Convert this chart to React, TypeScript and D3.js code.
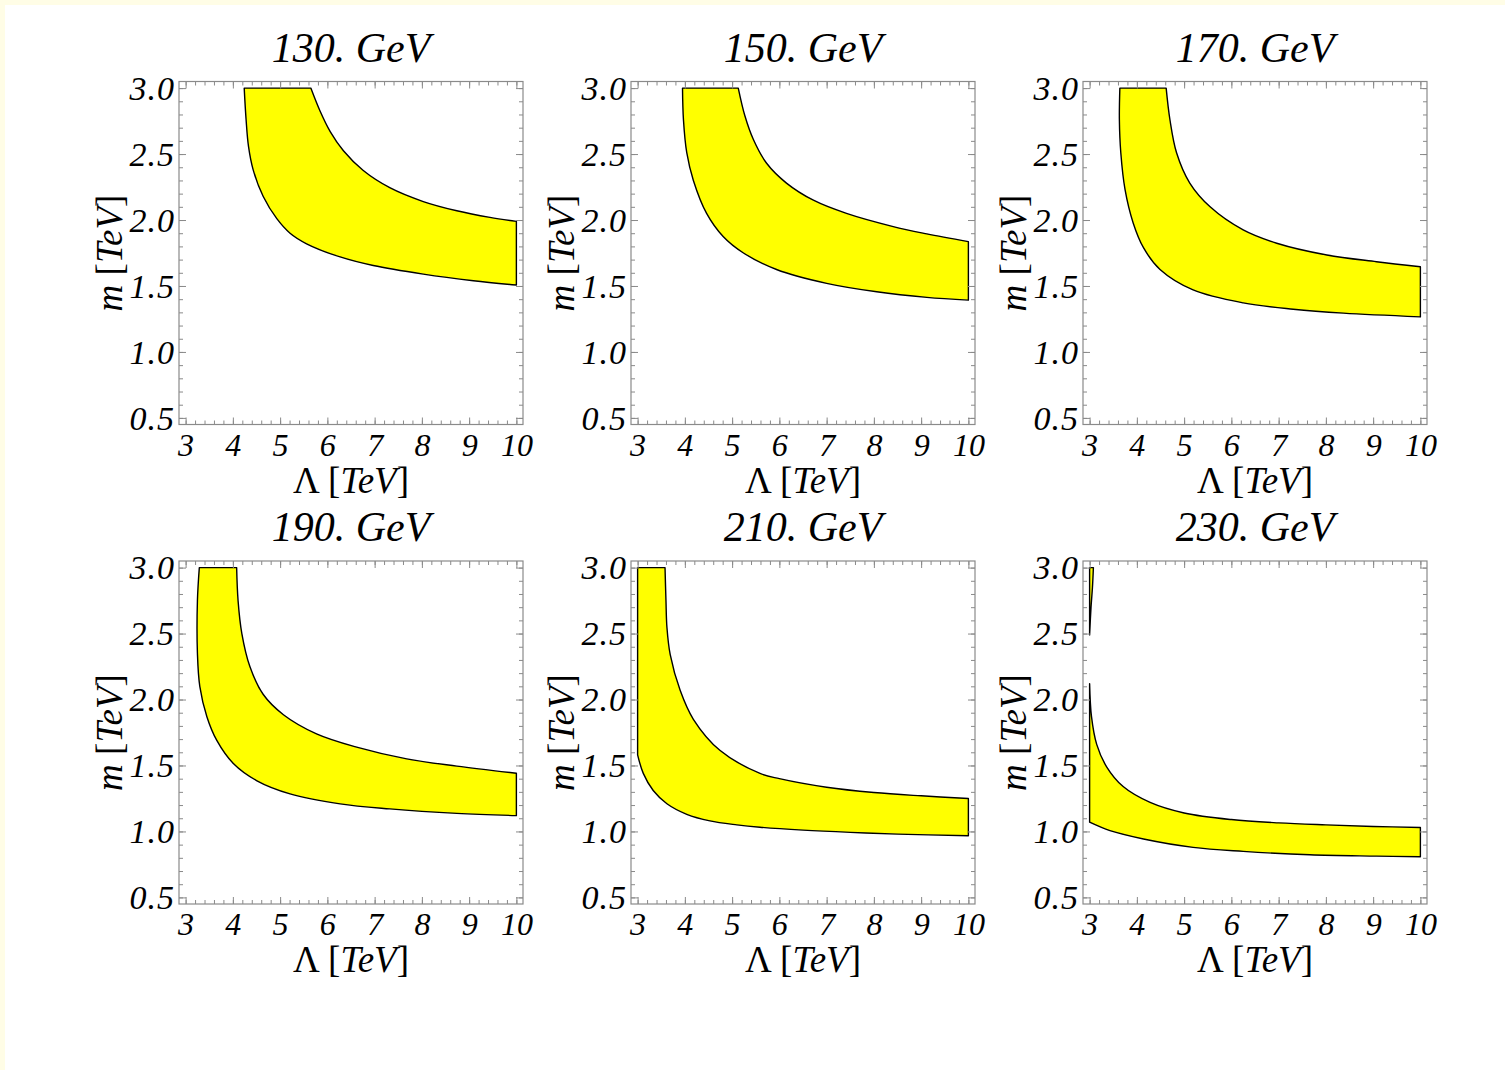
import React, { useEffect, useRef } from 'react';
import * as d3 from 'd3';

const titles = ["130. GeV", "150. GeV", "170. GeV", "190. GeV", "210. GeV", "230. GeV"];
const xTickValues = [3, 4, 5, 6, 7, 8, 9, 10];
const yTickValues = [0.5, 1.0, 1.5, 2.0, 2.5, 3.0];

// band edges as [Lambda, m] in TeV
const lower130 = [[4.24, 3.0], [4.28, 2.76], [4.33, 2.56], [4.43, 2.38], [4.64, 2.18], [4.93, 2.01], [5.21, 1.9], [5.56, 1.82], [6.27, 1.72], [6.97, 1.655], [8.03, 1.59], [9.09, 1.54], [10, 1.507]];
const upper130 = [[5.65, 3.0], [5.84, 2.83], [6.06, 2.67], [6.34, 2.525], [6.76, 2.375], [7.32, 2.245], [8.03, 2.14], [8.74, 2.07], [9.44, 2.02], [10, 1.99]];

const lower150 = [[3.95, 3.0], [3.97, 2.76], [4.04, 2.51], [4.18, 2.3], [4.46, 2.05], [4.81, 1.875], [5.24, 1.75], [5.94, 1.625], [7.0, 1.52], [8.06, 1.456], [9.12, 1.414], [10, 1.393]];
const upper150 = [[5.13, 3.0], [5.27, 2.79], [5.45, 2.61], [5.73, 2.43], [6.15, 2.28], [6.72, 2.15], [7.42, 2.05], [8.41, 1.95], [9.12, 1.895], [10, 1.836]];

const lower170 = [[3.64, 3.0], [3.63, 2.76], [3.66, 2.51], [3.75, 2.23], [3.92, 1.98], [4.14, 1.79], [4.49, 1.625], [5.19, 1.47], [6.25, 1.372], [7.31, 1.324], [8.37, 1.294], [10, 1.266]];
const upper170 = [[4.62, 3.0], [4.7, 2.76], [4.84, 2.51], [5.12, 2.28], [5.55, 2.1], [6.25, 1.925], [6.96, 1.824], [8.02, 1.735], [9.07, 1.684], [10, 1.646]];

const lower190 = [[3.29, 3.0], [3.25, 2.75], [3.25, 2.35], [3.3, 2.1], [3.45, 1.87], [3.66, 1.69], [4.01, 1.515], [4.5, 1.386], [5.21, 1.285], [6.27, 1.209], [7.32, 1.171], [8.74, 1.137], [10, 1.12]];
const upper190 = [[4.08, 3.0], [4.11, 2.75], [4.19, 2.5], [4.36, 2.25], [4.64, 2.04], [5.07, 1.885], [5.77, 1.74], [6.62, 1.639], [7.68, 1.55], [8.74, 1.495], [10, 1.441]];

const corner210 = [[3.0, 3.0]];
const lower210 = [[3.0, 1.58], [3.12, 1.44], [3.33, 1.31], [3.62, 1.21], [4.04, 1.13], [4.53, 1.08], [5.1, 1.05], [5.59, 1.032], [6.5, 1.01], [7.5, 0.993], [8.5, 0.98], [10, 0.967]];
const upper210 = [[3.58, 3.0], [3.6, 2.75], [3.62, 2.55], [3.69, 2.34], [3.9, 2.07], [4.18, 1.85], [4.74, 1.615], [5.59, 1.44], [6.0, 1.4], [7.0, 1.335], [8.0, 1.295], [9.0, 1.27], [10, 1.25]];

const lower230 = [[3.0, 1.07], [3.43, 1.006], [4.14, 0.943], [5.19, 0.879], [6.25, 0.849], [7.66, 0.823], [9.07, 0.813], [10, 0.808]];
const upper230 = [[3.0, 2.12], [3.04, 1.87], [3.15, 1.66], [3.36, 1.49], [3.71, 1.34], [4.28, 1.22], [5.0, 1.14], [6.0, 1.09], [7.0, 1.065], [8.0, 1.05], [9.0, 1.038], [10, 1.03]];
const sliverCorner230 = [[3.0, 3.0]];
const sliverEdge230 = [[3.08, 3.0], [3.06, 2.85], [3.03, 2.7], [3.0, 2.49]];

const rev = (a: number[][]) => [...a].reverse();

// each panel: list of regions, each region a list of smooth pieces joined by straight edges
const panelBands = [
  [[lower130, rev(upper130)]],
  [[lower150, rev(upper150)]],
  [[lower170, rev(upper170)]],
  [[lower190, rev(upper190)]],
  [[corner210, lower210, rev(upper210)]],
  [[lower230, rev(upper230)], [sliverCorner230, sliverEdge230]],
];

const W = 1505;
const H = 1070;
const colX = [179, 631, 1083];
const rowY = [81.5, 561];
const pw = 344;
const ph = 343;
const serif = "'Liberation Serif', 'Times New Roman', serif";

const App = () => {
  const svgRef = useRef(null);

  useEffect(() => {
    const svg = d3.select(svgRef.current);
    svg.selectAll("*").remove();

    svg.append("rect").attr("width", W).attr("height", H).attr("fill", "#fffde6");
    svg.append("rect").attr("x", 5).attr("y", 5).attr("width", W - 5).attr("height", H - 5).attr("fill", "#ffffff");

    titles.forEach((title, i) => {
      const left = colX[i % 3];
      const top = rowY[Math.floor(i / 3)];
      const x = d3.scaleLinear().domain([2.86, 10.14]).range([left, left + pw]);
      const y = d3.scaleLinear().domain([0.45, 3.05]).range([top + ph, top]);
      const g = svg.append("g");

      // bands
      const line = d3.line<number[]>()
        .x(d => x(d[0]))
        .y(d => y(d[1]))
        .curve(d3.curveCatmullRom.alpha(0.5));
      panelBands[i].forEach(region => {
        let path = "";
        region.forEach((pts, k) => {
          let s = pts.length > 1 ? (line(pts) as string) : `M${x(pts[0][0])},${y(pts[0][1])}`;
          if (k > 0) s = "L" + s.slice(1);
          path += s;
        });
        g.append("path")
          .attr("d", path + "Z")
          .attr("fill", "#ffff00")
          .attr("stroke", "#000")
          .attr("stroke-width", 1.4)
          .attr("stroke-linejoin", "round");
      });

      // ticks on all four sides
      const tickColor = "#8a8a8a";
      const addAxis = (axis: any, tx: number, ty: number) => {
        const a = g.append("g").attr("transform", `translate(${tx},${ty})`).call(axis);
        a.select(".domain").remove();
        a.selectAll("line").attr("stroke", tickColor);
        return a;
      };
      const xMinor = x.ticks(35);
      const yMinor = y.ticks(26);
      addAxis(d3.axisBottom(x).tickValues(xMinor).tickSize(-4).tickFormat(() => ""), 0, top + ph);
      addAxis(d3.axisTop(x).tickValues(xMinor).tickSize(-4).tickFormat(() => ""), 0, top);
      addAxis(d3.axisLeft(y).tickValues(yMinor).tickSize(-4).tickFormat(() => ""), left, 0);
      addAxis(d3.axisRight(y).tickValues(yMinor).tickSize(-4).tickFormat(() => ""), left + pw, 0);
      addAxis(d3.axisTop(x).tickValues(xTickValues).tickSize(-7).tickFormat(() => ""), 0, top);
      addAxis(d3.axisRight(y).tickValues(yTickValues).tickSize(-7).tickFormat(() => ""), left + pw, 0);

      const xa = addAxis(d3.axisBottom(x).tickValues(xTickValues).tickSize(-7).tickPadding(10).tickFormat(d3.format("d")), 0, top + ph);
      xa.selectAll("text")
        .attr("font-family", serif).attr("font-style", "italic").attr("font-size", 32)
        .attr("fill", "#000").attr("dy", "0.66em");
      const ya = addAxis(d3.axisLeft(y).tickValues(yTickValues).tickSize(-7).tickPadding(4).tickFormat(d3.format(".1f")), left, 0);
      ya.selectAll("text")
        .attr("font-family", serif).attr("font-style", "italic").attr("font-size", 34)
        .attr("letter-spacing", 1)
        .attr("fill", "#000").attr("dy", "0.33em");

      // frame
      g.append("rect")
        .attr("x", left).attr("y", top).attr("width", pw).attr("height", ph)
        .attr("fill", "none").attr("stroke", tickColor).attr("stroke-width", 1.2);

      // title
      g.append("text")
        .attr("x", left + pw / 2).attr("y", top - 20)
        .attr("text-anchor", "middle")
        .attr("font-family", serif).attr("font-style", "italic").attr("font-size", 42)
        .text(title);

      // x label
      const xl = g.append("text")
        .attr("x", left + pw / 2).attr("y", top + ph + 68)
        .attr("text-anchor", "middle")
        .attr("font-family", serif).attr("font-size", 37);
      xl.append("tspan").text("Λ [");
      xl.append("tspan").attr("font-style", "italic").text("TeV");
      xl.append("tspan").text("]");

      // y label
      const yl = g.append("text")
        .attr("transform", `translate(${left - 57},${top + ph / 2}) rotate(-90)`)
        .attr("text-anchor", "middle")
        .attr("font-family", serif).attr("font-size", 37);
      yl.append("tspan").attr("font-style", "italic").text("m");
      yl.append("tspan").text(" [");
      yl.append("tspan").attr("font-style", "italic").text("TeV");
      yl.append("tspan").text("]");
    });
  }, []);

  return (
    <svg
      ref={svgRef}
      width={W}
      height={H}
      style={{ position: "absolute", left: 0, top: 0, display: "block" }}
    />
  );
};

export default App;
